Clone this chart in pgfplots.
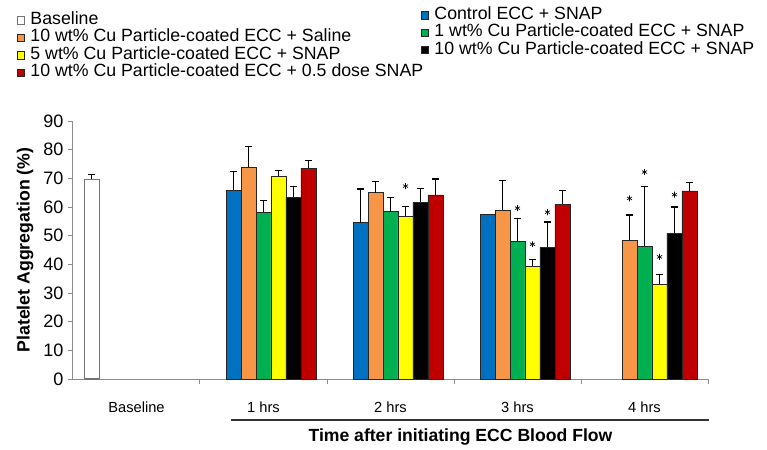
\documentclass[border=0pt]{standalone}
\usepackage{pgfplots}
\pgfplotsset{compat=1.18}
\usepackage{fontspec}
\setmainfont{Liberation Sans}

\definecolor{cblue}{HTML}{0070C0}
\definecolor{corange}{HTML}{F79646}
\definecolor{cgreen}{HTML}{00B050}
\definecolor{cyellow}{HTML}{FFFF00}
\definecolor{cred}{HTML}{C00000}

% bars are placed at category + slot offset (slot width 0.118)
\pgfplotsset{
  sq/.style={legend image code/.code={\draw[##1,line width=0.5pt] (0pt,-2.7pt) rectangle (5.4pt,2.7pt);}},
  plainbars/.style={ybar, bar width=0.118, bar shift=0, draw=black!85, line width=0.5pt, sq},
  bars/.style={plainbars,
    error bars/y dir=plus, error bars/y explicit,
    error bars/error bar style={black, line width=0.9pt},
    error bars/error mark options={rotate=90, mark size=2.6pt, black, line width=0.9pt}},
  mylegend/.style={legend style={draw=none, fill=none, anchor=north west,
    font=\fontsize{13.3}{15}\selectfont, row sep=0pt, inner sep=0pt,
    nodes={inner xsep=4pt, inner ysep=0pt, text height=9.6pt, text depth=3.5pt}},
    legend cell align=left},
  stars/.style={only marks, mark=asterisk, mark size=2.2pt, black, line width=0.5pt, forget plot},
}

\begin{document}
\begin{tikzpicture}
\begin{axis}[
  scale only axis, width=476.25pt, height=193.5pt,
  xmin=-0.5, xmax=4.5, ymin=0, ymax=90,
  axis lines*=left,
  axis line style={black!45, line width=0.75pt},
  clip=false,
  ytick={0,10,...,90},
  xtick={0,1,2,3,4},
  xticklabels={Baseline,1 hrs,2 hrs,3 hrs,4 hrs},
  minor xtick={0.5,1.5,2.5,3.5,4.5},
  tick align=outside,
  tick style={black!45, line width=0.75pt},
  major x tick style={draw=none},
  major tick length=3.75pt, minor tick length=3.75pt,
  /pgf/number format/assume math mode=true,
  yticklabel style={font=\fontsize{13.5}{15}\selectfont},
  xticklabel style={font=\fontsize{11}{13}\selectfont, yshift=-10pt},
  ylabel={Platelet Aggregation (\%)},
  every axis y label/.style={at={(axis description cs:-0.0756,0.5)}, rotate=90, anchor=center,
    font=\bfseries\fontsize{13.3}{15}\selectfont},
  mylegend,
  legend style={at={(-0.0882,1.425)}},
]
% baseline
\addplot[bars, fill=white, draw=black!55, line width=0.8pt]
  coordinates {(-0.354,69.7) +- (0,1.7)};
\addlegendentry{Baseline}
% control ECC + SNAP
\addplot[bars, fill=cblue, forget plot]
  coordinates {(0.764,65.9) +- (0,6.5) (1.764,54.5) +- (0,11.8)};
\addplot[plainbars, fill=cblue, forget plot]
  coordinates {(2.764,57.3)};
% 10 wt% saline
\addplot[bars, fill=corange]
  coordinates {(0.882,73.9) +- (0,7.1) (1.882,65.0) +- (0,3.9) (2.882,58.8) +- (0,10.5) (3.882,48.4) +- (0,8.8)};
\addlegendentry{10 wt\% Cu Particle-coated ECC + Saline}
% 1 wt%
\addplot[bars, fill=cgreen, forget plot]
  coordinates {(1,58.2) +- (0,4.0) (2,58.4) +- (0,4.8) (3,48.0) +- (0,8.0) (4,46.3) +- (0,20.8)};
% 5 wt%
\addplot[bars, fill=cyellow]
  coordinates {(1.118,70.8) +- (0,2.0) (2.118,56.7) +- (0,3.6) (3.118,39.3) +- (0,2.3) (4.118,33.0) +- (0,3.4)};
\addlegendentry{5 wt\% Cu Particle-coated ECC + SNAP}
% 10 wt%
\addplot[bars, fill=black, forget plot]
  coordinates {(1.236,63.4) +- (0,3.7) (2.236,61.7) +- (0,4.8) (3.236,46.0) +- (0,8.8) (4.236,50.8) +- (0,9.2)};
% 10 wt% half dose
\addplot[bars, fill=cred]
  coordinates {(1.354,73.6) +- (0,2.7) (2.354,64.2) +- (0,5.6) (3.354,60.9) +- (0,4.9) (4.354,65.6) +- (0,2.9)};
\addlegendentry{10 wt\% Cu Particle-coated ECC + 0.5 dose SNAP}
% significance stars
\addplot[stars] coordinates {(2.118,67.3) (3,59.6) (3.118,47.0) (3.236,58.2)
  (3.882,63.0) (4,72.2) (4.118,42.6) (4.236,64.3)};

\draw[black!80, line width=0.9pt] (axis description cs:0.2488,-0.1589) -- (axis description cs:1.0016,-0.1589);
\node[font=\bfseries\fontsize{13.2}{15}\selectfont] at (axis description cs:0.6102,-0.2248) {Time after initiating ECC Blood Flow};
\path (axis description cs:-0.11496,-0.24806) rectangle (axis description cs:1.09291,1.46899);
\end{axis}

\begin{axis}[
  scale only axis, width=476.25pt, height=193.5pt,
  xmin=-0.5, xmax=4.5, ymin=0, ymax=90,
  hide axis,
  mylegend,
  legend style={at={(0.548,1.4448)}},
]
\addlegendimage{sq, fill=cblue, draw=black!85}
\addlegendentry{Control ECC + SNAP}
\addlegendimage{sq, fill=cgreen, draw=black!85}
\addlegendentry{1 wt\% Cu Particle-coated ECC + SNAP}
\addlegendimage{sq, fill=black, draw=black!85}
\addlegendentry{10 wt\% Cu Particle-coated ECC + SNAP}
\end{axis}
\end{tikzpicture}
\end{document}
